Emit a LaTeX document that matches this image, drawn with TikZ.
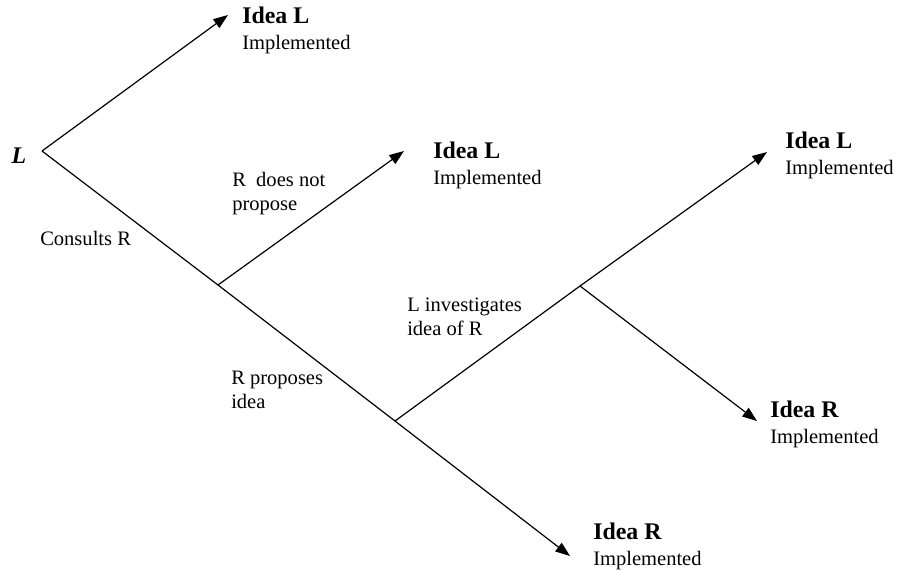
\documentclass[tikz,border=0pt]{standalone}
\usepackage{fontspec}
\setmainfont{Liberation Serif}
\usetikzlibrary{arrows.meta}

\newcommand{\idea}[1]{{\bfseries\fontsize{17.9}{21}\selectfont Idea #1}}

\begin{document}
\begin{tikzpicture}[x=0.75pt,y=-0.75pt,>={Triangle[length=11pt,width=8pt]},
        branch/.style={line width=0.9pt},
        outcome/.style={anchor=west,align=left,inner sep=0pt,font=\fontsize{15.4}{19.5}\selectfont},
        choice/.style={anchor=west,align=left,inner sep=0pt,font=\fontsize{15.4}{18}\selectfont}]
        \useasboundingbox (0,0) rectangle (898,572);

        % the decision points
        \coordinate (root) at (42,151);
        \coordinate (consult) at (218,285);
        \coordinate (propose) at (395,421);
        \coordinate (invest) at (580,286);

        % the arrow tips
        \coordinate (tipA) at (228,15);
        \coordinate (tipB) at (404,151);
        \coordinate (tipC) at (767,152);
        \coordinate (tipD) at (757,421);
        \coordinate (tipE) at (570,556);

        % the player who moves first
        \node[font=\bfseries\itshape\fontsize{17.9}{21}\selectfont] (player) at (19,156) {L};

        % the outcomes
        \node[outcome] (endA) at (242,30)  {\idea{L}\\Implemented};
        \node[outcome] (endB) at (433,165) {\idea{L}\\Implemented};
        \node[outcome] (endC) at (785,155) {\idea{L}\\Implemented};
        \node[outcome] (endD) at (770,424) {\idea{R}\\Implemented};
        \node[outcome] (endE) at (593,546) {\idea{R}\\Implemented};

        % the moves along the branches
        \node[choice] (consults) at (40,238)  {Consults R};
        \node[choice] (nopropose) at (232,194) {R~ does not\\propose};
        \node[choice] (proposes) at (231,390) {R proposes\\idea};
        \node[choice] (investigates) at (407,317) {L investigates\\idea of R};

        % draw the tree
        \draw[branch,->] (root) -- (tipA);
        \draw[branch] (root) -- (consult) -- (propose);
        \draw[branch,->] (propose) -- (tipE);
        \draw[branch,->] (consult) -- (tipB);
        \draw[branch] (propose) -- (invest);
        \draw[branch,->] (invest) -- (tipC);
        \draw[branch,->] (invest) -- (tipD);
\end{tikzpicture}
\end{document}
